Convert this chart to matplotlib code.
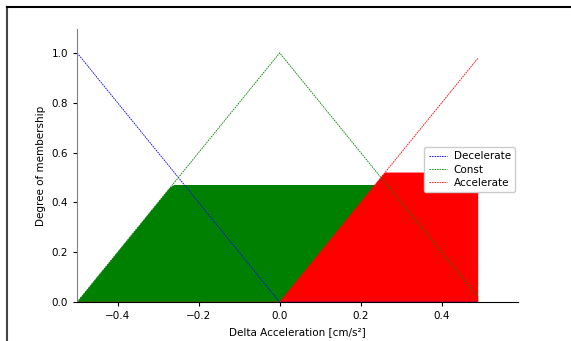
import numpy as np
import matplotlib.pyplot as plt
from matplotlib.lines import Line2D

# universe and membership functions
x_acc = np.arange(-0.5, 0.5, 0.01)
decel = np.clip(-x_acc / 0.5, 0, 1)
const = np.clip(1 - np.abs(x_acc) / 0.5, 0, 1)
accel = np.clip(x_acc / 0.5, 0, 1)

# activation levels
level_decel = 0.0
level_const = 0.47
level_accel = 0.52

act_decel = np.fmin(level_decel, decel)
act_const = np.fmin(level_const, const)
act_accel = np.fmin(level_accel, accel)
zero = np.zeros_like(x_acc)

fig = plt.figure(figsize=(5.71, 3.41), dpi=100)
ax = fig.add_axes([0.135, 0.114, 0.772, 0.801])

ls = (0, (2, 1))
ax.fill_between(x_acc, zero, act_decel, facecolor='b', alpha=1)
ax.plot(x_acc, decel, 'b', linewidth=0.6, linestyle=ls, label='Decelerate')
ax.fill_between(x_acc, zero, act_const, facecolor='g', alpha=1)
ax.plot(x_acc, const, 'g', linewidth=0.6, linestyle=ls, label='Const')
ax.fill_between(x_acc, zero, act_accel, facecolor='r', alpha=1)
ax.plot(x_acc, accel, 'r', linewidth=0.6, linestyle=ls, label='Accelerate')

ax.set_xlim(-0.5, 0.588)
ax.set_ylim(0, 1.096)
ax.set_xticks([-0.4, -0.2, 0.0, 0.2, 0.4])
ax.set_yticks([0.0, 0.2, 0.4, 0.6, 0.8, 1.0])
ax.tick_params(labelsize=7.5, length=3)
ax.set_xlabel('Delta Acceleration [cm/s²]', fontsize=7.5)
ax.set_ylabel('Degree of membership', fontsize=7.5)
ax.spines['top'].set_visible(False)
ax.spines['right'].set_visible(False)
ax.spines['left'].set_color('gray')
ax.legend(loc='upper left', bbox_to_anchor=(0.776, 0.586), fontsize=7.5,
          handlelength=1.8, handletextpad=0.6, borderpad=0.4,
          labelspacing=0.3, framealpha=1)

# frame of the surrounding figure
fig.add_artist(Line2D([0.0123, 0.0123], [0, 0.979], color='#444444', lw=1.5))
fig.add_artist(Line2D([0.0123, 1.0], [0.979, 0.979], color='black', lw=1.5))

fig.savefig('out.png', dpi=100)
